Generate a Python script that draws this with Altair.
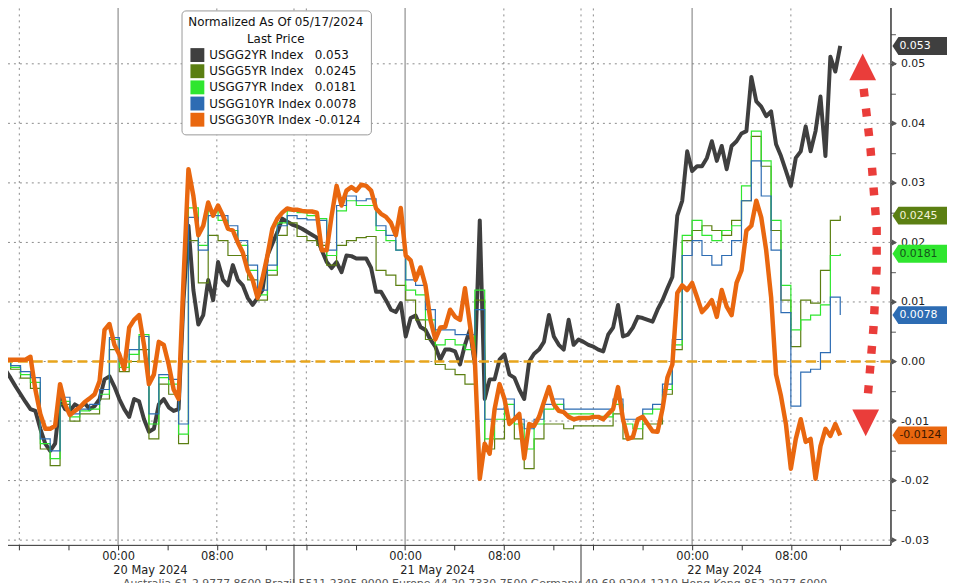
import altair as alt
import pandas as pd

# ---------------- data ----------------
# time axis in "trading hours" since the first session break (15:00 on 19 May);
# each session lasts 23.25 h on the compressed axis
DAY_STARTS = [0.0, 23.25, 46.5]
DAY_LABELS = ["20 May 2024", "21 May 2024", "22 May 2024"]
TICK_OFFSETS = [1, 5, 9, 13, 17, 21]            # 16:00 20:00 00:00 04:00 08:00 12:00
TICK_NAMES = ["", "", "00:00", "", "08:00", ""]

T_FINE = [round(-0.5 + 0.4 * i, 2) for i in range(171)]
T_COARSE = [round(-0.5 + 0.8 * j, 2) for j in range(86)]

USGG2YR = [
    0.0, -0.0015, -0.0028, -0.0042, -0.0055, -0.0068, -0.008, -0.0083, -0.0113, -0.0138,
    -0.015, -0.0138, -0.0063, -0.008, -0.0083, -0.0072, -0.0077, -0.007, -0.008, -0.0075,
    -0.0063, -0.003, -0.0025, -0.0042, -0.0063, -0.008, -0.0093, -0.0063, -0.0067, -0.0097,
    -0.0118, -0.0113, -0.0072, -0.0063, -0.0077, -0.0083, -0.008, 0.0103, 0.0228, 0.012,
    0.0062, 0.0078, 0.0137, 0.0103, 0.0167, 0.0137, 0.0128, 0.0162, 0.0137, 0.0128,
    0.0107, 0.0095, 0.0107, 0.012, 0.0178, 0.0198, 0.0217, 0.024, 0.0235, 0.023,
    0.0227, 0.0223, 0.0218, 0.0213, 0.0208, 0.0187, 0.0167, 0.0157, 0.0167, 0.015,
    0.0178, 0.0177, 0.0173, 0.0173, 0.0173, 0.0157, 0.0117, 0.0117, 0.0103, 0.0087,
    0.0083, 0.0098, 0.0042, 0.0073, 0.0077, 0.0058, 0.0053, 0.0037, 0.0025, 0.0003,
    0.002, 0.002, 0.0017, -0.0005, 0.0028, 0.0053, -0.0005, 0.0237, -0.0063, -0.003,
    -0.003, 0.0003, 0.0012, -0.0022, -0.0027, -0.0047, -0.0063, 0.0, 0.0013, 0.002,
    0.0033, 0.0078, 0.0042, 0.0028, 0.002, 0.007, 0.0028, 0.0037, 0.0033, 0.0028,
    0.0025, 0.002, 0.0017, 0.0045, 0.0057, 0.0095, 0.0042, 0.0045, 0.0057, 0.0075,
    0.0073, 0.007, 0.0067, 0.0087, 0.0103, 0.0123, 0.0142, 0.0245, 0.027, 0.0353,
    0.032, 0.0328, 0.0328, 0.0342, 0.037, 0.0337, 0.0362, 0.0323, 0.0362, 0.037,
    0.0383, 0.0387, 0.0478, 0.0437, 0.0428, 0.0412, 0.042, 0.0365, 0.0345, 0.032,
    0.0295, 0.0342, 0.0353, 0.0395, 0.0353, 0.0387, 0.0445, 0.0345, 0.0512, 0.0487, 0.053,
]

USGG30YR = [
    0.0012, 0.0003, 0.0003, 0.0003, 0.0003, 0.0003, 0.0008, -0.0047, -0.0088, -0.0113,
    -0.0113, -0.0108, -0.0038, -0.0072, -0.009, -0.0083, -0.0077, -0.0068, -0.0062, -0.0055,
    -0.0033, 0.0053, 0.0063, 0.0028, 0.0012, -0.0013, 0.0057, 0.007, 0.0078, 0.0028,
    -0.0038, -0.0022, 0.0033, 0.0028, -0.0005, -0.0047, -0.0063, 0.0137, 0.0323, 0.0278,
    0.0212, 0.0228, 0.0267, 0.0245, 0.0262, 0.0245, 0.0223, 0.022, 0.02, 0.0183,
    0.0153, 0.0137, 0.0107, 0.014, 0.0178, 0.0223, 0.024, 0.025, 0.0257, 0.0255,
    0.0255, 0.0253, 0.0252, 0.0252, 0.025, 0.0187, 0.0187, 0.0245, 0.0295, 0.0262,
    0.0287, 0.0293, 0.0287, 0.0297, 0.0295, 0.0287, 0.0257, 0.0248, 0.0243, 0.0233,
    0.0212, 0.0258, 0.0178, 0.017, 0.0137, 0.0158, 0.0128, 0.007, 0.0037, 0.0057,
    0.0058, 0.0087, 0.0075, 0.007, 0.0123, 0.0062, 0.0003, -0.0197, -0.0138, -0.0155,
    -0.008, -0.0038, -0.0063, -0.0105, -0.0097, -0.0088, -0.0163, -0.0105, -0.0108, -0.0093,
    -0.0068, -0.0043, -0.0072, -0.0083, -0.0085, -0.0093, -0.0097, -0.0095, -0.0095, -0.0095,
    -0.0093, -0.0093, -0.0097, -0.0088, -0.008, -0.0043, -0.0097, -0.013, -0.0127, -0.0097,
    -0.0093, -0.0105, -0.0117, -0.0118, -0.008, -0.0027, -0.0005, 0.0115, 0.0128, 0.012,
    0.0132, 0.0108, 0.0083, 0.0092, 0.0103, 0.0075, 0.012, 0.0092, 0.0078, 0.0132,
    0.0153, 0.022, 0.0228, 0.027, 0.0242, 0.0187, 0.0108, -0.0022, -0.0058, -0.0105,
    -0.018, -0.013, -0.0097, -0.0135, -0.013, -0.0197, -0.0142, -0.0113, -0.0125, -0.0105, -0.0124,
]

USGG10YR = [
    0.0, -0.0007, -0.0017, -0.0027, -0.013, -0.015, -0.006, -0.0088, -0.008, -0.0072,
    -0.0047, 0.004, 0.0, 0.002, 0.0042, -0.0088, -0.0022, -0.003, -0.0105, 0.0242,
    0.0187, 0.0245, 0.0245, 0.0228, 0.0203, 0.0162, 0.012, 0.0162, 0.0228, 0.0245,
    0.024, 0.0238, 0.0237, 0.0187, 0.0262, 0.0278, 0.027, 0.0273, 0.0228, 0.0212,
    0.0187, 0.0137, 0.0128, 0.0087, 0.0053, 0.0053, 0.0045, 0.0045, 0.0087, -0.0097,
    -0.008, -0.0063, -0.0097, -0.0113, -0.0097, -0.0072, -0.0063, -0.008, -0.008, -0.008,
    -0.008, -0.008, -0.0063, -0.0097, -0.0097, -0.008, -0.0072, -0.0038, 0.0037, 0.0178,
    0.0203, 0.0178, 0.0162, 0.0178, 0.0203, 0.027, 0.0337, 0.0278, 0.0187, 0.0082,
    -0.0075, -0.0018, -0.0013, 0.0015, 0.0108, 0.0078,
]

USGG7YR = [
    0.0, -0.001, -0.0022, -0.0035, -0.0138, -0.0163, -0.0067, -0.0093, -0.0083, -0.008,
    -0.0055, 0.0037, -0.001, 0.0012, 0.0045, -0.0105, -0.0027, -0.0038, -0.0122, 0.0258,
    0.0195, 0.0253, 0.0237, 0.022, 0.0195, 0.0153, 0.0112, 0.0153, 0.0233, 0.0253,
    0.025, 0.0245, 0.024, 0.0178, 0.0253, 0.027, 0.0262, 0.0262, 0.022, 0.0203,
    0.0187, 0.012, 0.0112, 0.007, 0.0028, 0.0037, 0.0028, 0.002, 0.012, -0.013,
    -0.0097, -0.0072, -0.0105, -0.0147, -0.0105, -0.008, -0.0072, -0.0088, -0.0088, -0.0088,
    -0.0092, -0.0093, -0.0072, -0.0105, -0.0113, -0.0088, -0.008, -0.0047, 0.0028, 0.0212,
    0.0237, 0.0212, 0.0203, 0.022, 0.0228, 0.0295, 0.0387, 0.0337, 0.0237, 0.0128,
    0.0053, 0.007, 0.0078, 0.0095, 0.0178, 0.0181,
]

USGG5YR = [
    0.0, -0.0013, -0.0028, -0.0045, -0.0147, -0.0175, -0.0072, -0.01, -0.0088, -0.0088,
    -0.0063, 0.002, -0.0017, 0.0, 0.002, -0.013, -0.0038, -0.0055, -0.0138, 0.0203,
    0.0132, 0.0212, 0.0203, 0.0178, 0.0178, 0.0137, 0.0103, 0.0145, 0.0212, 0.0233,
    0.021, 0.0203, 0.0195, 0.0162, 0.0195, 0.0203, 0.0208, 0.021, 0.0153, 0.0145,
    0.0128, 0.0103, 0.007, 0.0037, -0.0005, -0.0013, -0.0022, -0.0038, 0.0103, -0.0147,
    -0.013, -0.0097, -0.013, -0.018, -0.013, -0.0105, -0.0105, -0.0113, -0.0108, -0.0108,
    -0.0108, -0.0108, -0.0088, -0.013, -0.013, -0.0105, -0.0105, -0.0055, 0.002, 0.0203,
    0.022, 0.0228, 0.022, 0.0212, 0.0237, 0.027, 0.0378, 0.0328, 0.022, 0.0103,
    0.0025, 0.0103, 0.0098, 0.0153, 0.0237, 0.0245,
]

SERIES = ["USGG2YR Index", "USGG5YR Index", "USGG7YR Index", "USGG10YR Index", "USGG30YR Index"]
LAST_TXT = ["0.053", "0.0245", "0.0181", "0.0078", "-0.0124"]
LAST = [0.053, 0.0245, 0.0181, 0.0078, -0.0124]
PAD = ["\u00a0\u00a0\u00a0", "\u00a0\u00a0\u00a0", "\u00a0\u00a0\u00a0", "\u00a0", "\u00a0"]
COLORS = ["#3f3f3f", "#5b7f12", "#2fe62f", "#2d6cb3", "#e9670f"]
TAG_TEXT = ["#ffffff", "#f3f3d8", "#14561a", "#ffffff", "#3a1800"]
Y_LEVELS = [-0.03, -0.02, -0.01, 0.0, 0.01, 0.02, 0.03, 0.04, 0.05, 0.06]
Y_MINOR = [-0.03, -0.025, -0.02, -0.015, -0.01, -0.005, 0.0, 0.005, 0.01, 0.015,
           0.02, 0.025, 0.03, 0.035, 0.04, 0.045, 0.05, 0.055, 0.06]
FOOTER = ("Australia 61 2 9777 8600 Brazil 5511 2395 9000 Europe 44 20 7330 7500 "
          "Germany 49 69 9204 1210 Hong Kong 852 2977 6000")

# red double-headed annotation arrow (hours, value)
ARROW_T = [69.4, 69.95, 70.45, 70.45, 70.2, 69.8, 69.7]
ARROW_V = [0.0458, 0.0358, 0.0225, 0.0158, 0.0058, -0.0042, -0.0065]
HEAD_T = [69.32, 69.56]
HEAD_V = [0.0495, -0.0103]

# ---------------- chart ----------------
W, H = 898, 547
FONT = "DejaVu Sans"
xs = alt.Scale(domain=[-0.56, 71.57], nice=False, zero=False)
ys = alt.Scale(domain=[-0.0308, 0.0603], nice=False, zero=False)

x_ticks = [s + o for s in DAY_STARTS for o in TICK_OFFSETS]
x_names = [n for s in DAY_STARTS for n in TICK_NAMES]
expr = "''"
for t, n in reversed(list(zip(x_ticks, x_names))):
    if n:
        expr = f"datum.value == {t} ? '{n}' : ({expr})"

x_axis = alt.Axis(values=x_ticks, labelExpr=expr, tickSize=5, labelPadding=1,
                  domainColor="#333", tickColor="#333", labelColor="#222",
                  labelFontSize=11.5, labelFont=FONT, grid=False, title=None,
                  labelAngle=0, labelFlush=False, labelOverlap=False, zindex=0)
y_axis = alt.Axis(orient="right", values=Y_MINOR,
                  labelExpr=("abs(round(datum.value*200)) % 2 == 0 && datum.value < 0.055 ? "
                             "(datum.value < -0.0001 ? '-' : '') + format(abs(datum.value), '.2f') : ''"),
                  tickSize=5, labelPadding=5, domainColor="#3a3a3a", domainWidth=1.5,
                  tickColor="#555", labelColor="#222", labelFontSize=11, labelFont=FONT,
                  grid=False, title=None, labelFlush=False, labelOverlap=False, zindex=0)


def X():
    return alt.X("t:Q", scale=xs, axis=x_axis)


def Y():
    return alt.Y("v:Q", scale=ys, axis=y_axis)


def frame(t, v, name):
    return pd.DataFrame({"t": t, "v": v, "s": name})


df2 = frame(T_FINE, USGG2YR, SERIES[0])
df5 = frame(T_COARSE, USGG5YR, SERIES[1])
df7 = frame(T_COARSE, USGG7YR, SERIES[2])
df10 = frame(T_COARSE, USGG10YR, SERIES[3])
df30 = frame(T_FINE, USGG30YR, SERIES[4])

# grid lines
grid_h = alt.Chart(pd.DataFrame({"v": Y_LEVELS})).mark_rule(
    color="#8a8a8a", strokeDash=[2, 4], strokeWidth=1).encode(y=Y())
dotted_t = [s + o for s in DAY_STARTS for o in (0, 1, 17)]
grid_vd = alt.Chart(pd.DataFrame({"t": dotted_t})).mark_rule(
    color="#8a8a8a", strokeDash=[2, 4], strokeWidth=1).encode(x=X())
grid_vs = alt.Chart(pd.DataFrame({"t": [s + 9 for s in DAY_STARTS]})).mark_rule(
    color="#777", strokeWidth=1).encode(x=X())

# series lines
l2 = alt.Chart(df2).mark_line(color=COLORS[0], strokeWidth=4, strokeJoin="round").encode(
    x=X(), y=Y())
l5 = alt.Chart(df5).mark_line(color=COLORS[1], strokeWidth=1.2, interpolate="step-after").encode(x=X(), y=Y())
l7 = alt.Chart(df7).mark_line(color=COLORS[2], strokeWidth=1.2, interpolate="step-after").encode(x=X(), y=Y())
l10 = alt.Chart(df10).mark_line(color=COLORS[3], strokeWidth=1.2, interpolate="step-after").encode(x=X(), y=Y())
zero = alt.Chart(pd.DataFrame({"v": [0.0]})).mark_rule(
    color="#e8a51c", strokeDash=[10, 5], strokeWidth=2.5).encode(y=Y())
l30 = alt.Chart(df30).mark_line(color=COLORS[4], strokeWidth=4.5, strokeJoin="round").encode(
    x=X(), y=Y())

# legend (invisible squares carrying the colour legend)
labels = [f"{s}{p}{v}" for s, p, v in zip(SERIES, PAD, LAST_TXT)]
leg_df = pd.DataFrame({"t": [67.5] * 5, "v": LAST, "label": labels})
legend = alt.Chart(leg_df).mark_square(opacity=0, size=4).encode(
    x=X(), y=Y(),
    color=alt.Color("label:N", scale=alt.Scale(domain=labels, range=COLORS),
                    legend=alt.Legend(
                        orient="none", legendX=183, legendY=8,
                        title=["Normalized As Of 05/17/2024", "Last Price"],
                        titleAnchor="middle", titleAlign="center", titleFont=FONT,
                        titleFontSize=12, titleFontWeight="normal", titleColor="#111",
                        titleLineHeight=17, titlePadding=2, titleLimit=0,
                        labelFont=FONT, labelFontSize=12, labelColor="#111", labelLimit=0,
                        labelOffset=5, symbolType="square", symbolSize=196,
                        symbolStrokeWidth=0, symbolOpacity=1, rowPadding=2.3,
                        fillColor="white", strokeColor="#999", cornerRadius=4, padding=7)))

# right-hand value tags
TAG_PATH = "M -1 0 L -0.8 -0.3 L 1 -0.3 L 1 0.3 L -0.8 0.3 Z"
tag_df = pd.DataFrame({"v": LAST, "txt": LAST_TXT, "bg": COLORS, "fg": TAG_TEXT})
tags = alt.Chart(tag_df).mark_point(shape=TAG_PATH, filled=True, size=3600, opacity=1,
                                    strokeWidth=0).encode(
    x=alt.value(930), y=Y(), color=alt.Color("bg:N", scale=None))
tag_txt = alt.Chart(tag_df).mark_text(align="left", baseline="middle", font=FONT,
                                      fontSize=11).encode(
    x=alt.value(907), y=Y(), text="txt:N", color=alt.Color("fg:N", scale=None))

# axis arrow markers on the right axis
arrows_y = alt.Chart(pd.DataFrame({"v": Y_LEVELS})).mark_point(
    shape="triangle-right", filled=True, size=36, color="#555", opacity=1).encode(
    x=alt.value(902), y=Y())

# red annotation arrow
shaft = alt.Chart(pd.DataFrame({"t": ARROW_T, "v": ARROW_V, "o": list(range(len(ARROW_T)))})).mark_line(
    color="#ea3d3a", strokeWidth=8.5, strokeDash=[8, 12], strokeCap="butt").encode(
    x=X(), y=Y(), order="o:Q")
head_df = pd.DataFrame({"t": HEAD_T, "v": HEAD_V,
                        "shape": ["M 0 -1 L 1 1 L -1 1 Z", "M -1 -1 L 1 -1 L 0 1 Z"]})
heads = alt.Chart(head_df).mark_point(filled=True, size=729, color="#ea3d3a", opacity=1,
                                      strokeWidth=0).encode(
    x=X(), y=Y(), shape=alt.Shape("shape:N", scale=None))

# session separators, date labels and the (cropped) footer line below the axis
sep = alt.Chart(pd.DataFrame({"t": DAY_STARTS})).mark_rule(color="#333", strokeWidth=1).encode(
    x=X(), y=alt.value(H), y2=alt.value(H + 45))
dates = alt.Chart(pd.DataFrame({"t": [s + 11.625 for s in DAY_STARTS], "d": DAY_LABELS})).mark_text(
    font=FONT, fontSize=11.5, color="#222", baseline="middle").encode(
    x=X(), y=alt.value(H + 26), text="d:N")
footer = alt.Chart(pd.DataFrame({"f": [FOOTER]})).mark_text(
    font=FONT, fontSize=11, color="#555", align="left", baseline="alphabetic").encode(
    x=alt.value(124), y=alt.value(H + 42), text="f:N")

chart = alt.layer(
    grid_h, grid_vd, grid_vs, l2, l5, l7, l10, zero, l30, legend,
    arrows_y, tags, tag_txt, shaft, heads, sep, dates, footer,
).properties(
    width=W, height=H,
    padding={"left": -8, "top": -8, "right": 57, "bottom": 36},
    autosize=alt.AutoSizeParams(type="none"),
).configure_view(stroke=None).configure(font=FONT)

chart.save("out.html", embed_options={"renderer": "svg", "actions": False})
